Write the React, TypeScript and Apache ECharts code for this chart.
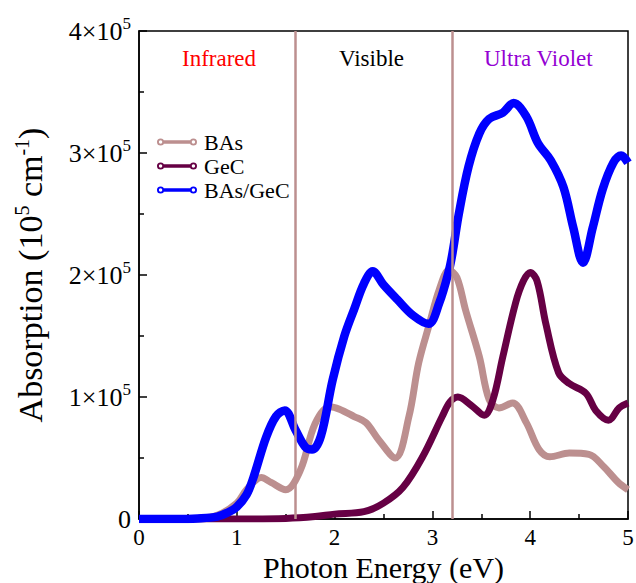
import React, { useEffect, useRef } from "react";
import * as echarts from "echarts";

const basX = [0, 0.3, 0.6, 0.8, 1.0, 1.1, 1.25, 1.35, 1.5, 1.65, 1.8, 1.95, 2.05, 2.2, 2.32, 2.45, 2.62, 2.76, 2.86, 2.97, 3.07, 3.17, 3.25, 3.34, 3.48, 3.58, 3.68, 3.82, 3.96, 4.09, 4.2, 4.4, 4.6, 4.75, 4.9, 5.0];
const basY = [0, 0, 0.005e5, 0.03e5, 0.13e5, 0.24e5, 0.34e5, 0.3e5, 0.24e5, 0.4e5, 0.78e5, 0.92e5, 0.9e5, 0.84e5, 0.79e5, 0.65e5, 0.5e5, 0.84e5, 1.28e5, 1.6e5, 1.88e5, 2.04e5, 1.98e5, 1.71e5, 1.33e5, 0.98e5, 0.91e5, 0.95e5, 0.79e5, 0.57e5, 0.51e5, 0.54e5, 0.53e5, 0.43e5, 0.3e5, 0.24e5];

const gecX = [0, 0.5, 1.0, 1.5, 1.8, 2.0, 2.3, 2.5, 2.7, 2.9, 3.1, 3.18, 3.26, 3.4, 3.53, 3.62, 3.72, 3.85, 3.93, 4.0, 4.07, 4.16, 4.29, 4.4, 4.57, 4.67, 4.8, 4.91, 5.0];
const gecY = [0, 0, 0, 0.005e5, 0.02e5, 0.04e5, 0.06e5, 0.13e5, 0.26e5, 0.51e5, 0.84e5, 0.96e5, 1.0e5, 0.93e5, 0.85e5, 0.98e5, 1.33e5, 1.77e5, 1.95e5, 2.02e5, 1.95e5, 1.6e5, 1.2e5, 1.11e5, 1.03e5, 0.89e5, 0.81e5, 0.91e5, 0.95e5];

const hetX = [0, 0.4, 0.6, 0.8, 0.9, 1.0, 1.1, 1.17, 1.3, 1.4, 1.49, 1.6, 1.7, 1.77, 1.86, 1.98, 2.1, 2.2, 2.3, 2.39, 2.5, 2.64, 2.8, 2.96, 3.07, 3.17, 3.21, 3.27, 3.37, 3.48, 3.58, 3.72, 3.83, 3.96, 4.08, 4.21, 4.34, 4.44, 4.54, 4.64, 4.74, 4.85, 4.93, 5.0];
const hetY = [0, 0, 0.005e5, 0.02e5, 0.05e5, 0.1e5, 0.2e5, 0.34e5, 0.67e5, 0.84e5, 0.89e5, 0.73e5, 0.59e5, 0.57e5, 0.68e5, 1.14e5, 1.5e5, 1.72e5, 1.93e5, 2.03e5, 1.92e5, 1.8e5, 1.67e5, 1.6e5, 1.77e5, 2.04e5, 2.2e5, 2.5e5, 2.89e5, 3.16e5, 3.28e5, 3.33e5, 3.41e5, 3.3e5, 3.08e5, 2.94e5, 2.72e5, 2.39e5, 2.1e5, 2.39e5, 2.7e5, 2.92e5, 2.98e5, 2.92e5];

const seriesNames = ["BAs", "GeC", "BAs/GeC"];
const regionLines = [1.6, 3.2];
const regionLabels = ["Infrared", "Visible", "Ultra Violet"];
const xTicks = [0, 1, 2, 3, 4, 5];
const yTicks = [0, 1e5, 2e5, 3e5, 4e5];

const FONT = "'Liberation Serif', 'DejaVu Serif', serif";

const zip = (xs: number[], ys: number[]) => xs.map((x, i) => [x, ys[i]]);

const legendIcon =
  "path://M0.5,4 A3.5,3.5 0 1,1 7.5,4 A3.5,3.5 0 1,1 0.5,4 Z M2.3,4 A1.7,1.7 0 1,0 5.7,4 A1.7,1.7 0 1,0 2.3,4 Z " +
  "M7,2.3 L33,2.3 L33,5.7 L7,5.7 Z " +
  "M32.5,4 A3.5,3.5 0 1,1 39.5,4 A3.5,3.5 0 1,1 32.5,4 Z M34.3,4 A1.7,1.7 0 1,0 37.7,4 A1.7,1.7 0 1,0 34.3,4 Z";

export default function App() {
  const ref = useRef<HTMLDivElement>(null);
  useEffect(() => {
    if (!ref.current) return;
    const chart = echarts.init(ref.current, null, { renderer: "svg", width: 636, height: 583 });
    const colors = ["#bc8f8f", "#660044", "#0000ff"];
    chart.setOption({
      animation: false,
      backgroundColor: "#ffffff",
      textStyle: { fontFamily: FONT },
      grid: {
        left: 139,
        top: 31,
        right: 8,
        bottom: 64,
        show: true,
        borderColor: "#000",
        borderWidth: 1.5,
        backgroundColor: "transparent",
        containLabel: false,
        outerBoundsMode: "none",
      },
      legend: {
        data: seriesNames,
        orient: "vertical",
        left: 152,
        top: 125,
        itemWidth: 40,
        itemHeight: 8,
        itemGap: 0,
        icon: legendIcon,
        textStyle: {
          fontFamily: FONT,
          fontSize: 22,
          color: "#000",
          lineHeight: 24,
          padding: [0, 0, 0, 2],
        },
        selectedMode: false,
      },
      xAxis: {
        type: "value",
        min: xTicks[0],
        max: xTicks[xTicks.length - 1],
        interval: 1,
        name: "Photon Energy (eV)",
        nameLocation: "middle",
        nameGap: 33,
        nameMoveOverlap: false,
        nameTextStyle: { fontFamily: FONT, fontSize: 30, color: "#000", lineHeight: 30 },
        axisLine: { show: true, onZero: false, lineStyle: { color: "#000", width: 1.5 } },
        axisTick: { show: true, inside: true, length: 8, lineStyle: { color: "#000", width: 1.5 } },
        minorTick: { show: true, splitNumber: 2, length: 5, lineStyle: { color: "#000", width: 1.5 } },
        splitLine: { show: false },
        axisLabel: { fontFamily: FONT, fontSize: 23, color: "#000", margin: 8, lineHeight: 20 },
      },
      yAxis: {
        type: "value",
        min: yTicks[0],
        max: yTicks[yTicks.length - 1],
        interval: 1e5,
        name: "{a|Absorption (10}{s|5}{a| cm}{s|-1}{a|)}",
        nameLocation: "middle",
        nameRotate: 90,
        nameGap: 90,
        nameMoveOverlap: false,
        nameTextStyle: {
          color: "#000",
          rich: {
            a: { fontFamily: FONT, fontSize: 34, color: "#000" },
            s: { fontFamily: FONT, fontSize: 20, color: "#000", padding: [0, 0, 17, 0] },
          },
        },
        axisLine: { show: true, lineStyle: { color: "#000", width: 1.5 } },
        axisTick: { show: true, inside: true, length: 8, lineStyle: { color: "#000", width: 1.5 } },
        minorTick: { show: true, splitNumber: 2, length: 5, lineStyle: { color: "#000", width: 1.5 } },
        splitLine: { show: false },
        axisLabel: {
          margin: 8,
          formatter: (v: number) => (v === 0 ? "{n|0}" : `{n|${Math.round(v / 1e5)}×10}{s|5}`),
          rich: {
            n: { fontFamily: FONT, fontSize: 26, color: "#000" },
            s: { fontFamily: FONT, fontSize: 17, color: "#000", padding: [0, 0, 15, 0] },
          },
        },
      },
      graphic: [
        { type: "text", left: 182, top: 47, style: { text: regionLabels[0], font: `23px ${FONT}`, fill: "#ff0000" } },
        { type: "text", left: 339, top: 47, style: { text: regionLabels[1], font: `23px ${FONT}`, fill: "#000000" } },
        { type: "text", left: 484, top: 47, style: { text: regionLabels[2], font: `23px ${FONT}`, fill: "#9400d3" } },
      ],
      series: [
        {
          name: "regions",
          type: "line",
          data: [],
          z: 1,
          markLine: {
            silent: true,
            symbol: "none",
            label: { show: false },
            lineStyle: { color: "#bc8f8f", width: 2.5, type: "solid" },
            data: regionLines.map((x) => ({ xAxis: x })),
          },
        },
        {
          name: seriesNames[0],
          type: "line",
          data: zip(basX, basY),
          smooth: 0.35,
          showSymbol: false,
          symbol: "circle",
          z: 2,
          lineStyle: { color: colors[0], width: 7 },
          itemStyle: { color: colors[0] },
        },
        {
          name: seriesNames[1],
          type: "line",
          data: zip(gecX, gecY),
          smooth: 0.35,
          showSymbol: false,
          symbol: "circle",
          z: 3,
          lineStyle: { color: colors[1], width: 7 },
          itemStyle: { color: colors[1] },
        },
        {
          name: seriesNames[2],
          type: "line",
          data: zip(hetX, hetY),
          smooth: 0.35,
          showSymbol: false,
          symbol: "circle",
          z: 4,
          lineStyle: { color: colors[2], width: 8.5 },
          itemStyle: { color: colors[2] },
        },
      ],
    });
    return () => chart.dispose();
  }, []);
  return (
    <div
      ref={ref}
      style={{ position: "fixed", left: 0, top: 0, width: 636, height: 583, background: "#fff" }}
    />
  );
}
